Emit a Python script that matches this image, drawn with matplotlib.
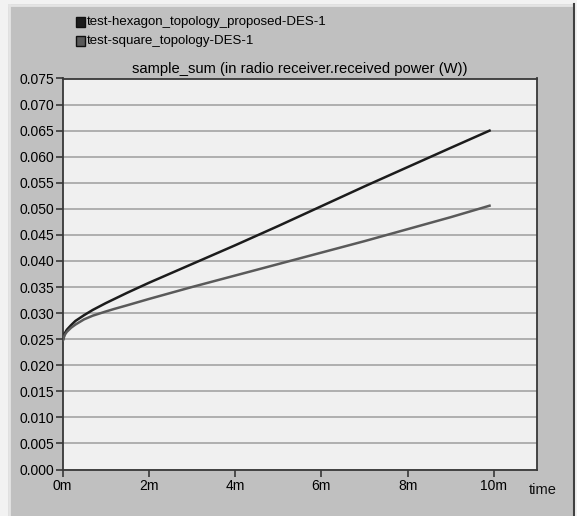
import matplotlib
matplotlib.use("Agg")
import matplotlib.pyplot as plt
from matplotlib.patches import Rectangle
from matplotlib.ticker import MultipleLocator, FuncFormatter

plt.rcParams["font.family"] = ["Liberation Sans", "DejaVu Sans"]

# simulation time (minutes) and received power (W)
hex_time = [0.0, 0.05, 0.1, 0.2, 0.3, 0.5, 0.7, 1.0, 1.2, 1.5, 2.0, 3.0,
            4.0, 5.0, 6.0, 7.0, 8.0, 9.0, 9.9]
hex_power = [0.0245, 0.0261, 0.0268, 0.0277, 0.0285, 0.0296, 0.0306, 0.0319,
             0.0327, 0.0339, 0.0358, 0.0394, 0.0430, 0.0467, 0.0505, 0.0543,
             0.0580, 0.0617, 0.0650]

sq_time = [0.0, 0.05, 0.1, 0.2, 0.3, 0.5, 0.7, 1.0, 1.2, 1.5, 2.0, 3.0,
           4.0, 5.0, 6.0, 7.0, 8.0, 9.0, 9.9]
sq_power = [0.0245, 0.0258, 0.0264, 0.0272, 0.0278, 0.0288, 0.0295, 0.0303,
            0.0308, 0.0315, 0.0327, 0.0350, 0.0372, 0.0394, 0.0416, 0.0438,
            0.0461, 0.0484, 0.0506]

series_names = ["test-hexagon_topology_proposed-DES-1", "test-square_topology-DES-1"]
series_colors = ["#1c1c1c", "#5a5a5a"]

W, H = 577, 516
fig = plt.figure(figsize=(W / 100, H / 100), dpi=100)
fig.patch.set_facecolor("#f2f2f2")

# grey panel with a light top/left edge and a dark right edge
panel = Rectangle((8 / W, 0), (566 / W), (512 / H), transform=fig.transFigure,
                  facecolor="#c0c0c0", edgecolor="none", zorder=0)
fig.patches.append(panel)
fig.add_artist(plt.Line2D([9 / W, 9 / W], [0, 511 / H], color="#e4e4e4", lw=2, zorder=0.5))
fig.add_artist(plt.Line2D([9 / W, 573 / W], [511 / H, 511 / H], color="#e4e4e4", lw=2, zorder=0.5))
fig.add_artist(plt.Line2D([574 / W, 574 / W], [0, 512 / H], color="#404040", lw=1.5, zorder=0.5))

ax = fig.add_axes([62.5 / W, (516 - 469.5) / H, (537 - 62.5) / W, (469.5 - 78.5) / H])
ax.set_zorder(2)
ax.set_facecolor("#f0f0f0")

ax.plot(hex_time, hex_power, color=series_colors[0], lw=1.8, zorder=3)
ax.plot(sq_time, sq_power, color=series_colors[1], lw=1.8, zorder=3)

ax.set_xlim(0, 11)
ax.set_ylim(0, 0.075)
ax.xaxis.set_major_locator(MultipleLocator(2))
ax.yaxis.set_major_locator(MultipleLocator(0.005))
ax.xaxis.set_major_formatter(FuncFormatter(lambda v, p: f"{v:.0f}m"))
ax.yaxis.set_major_formatter(FuncFormatter(lambda v, p: f"{v:.3f}"))
ax.grid(axis="y", color="#a4a4a4", lw=1.2)
ax.set_axisbelow(True)
for s in ax.spines.values():
    s.set_color("#383838")
    s.set_linewidth(1.3)
ax.tick_params(axis="both", colors="#383838", labelcolor="black", labelsize=10,
               length=5, width=1.2)
ax.tick_params(axis="y", pad=1)
ax.tick_params(axis="x", pad=2)

ax.set_title("sample_sum (in radio receiver.received power (W))", fontsize=10.6, pad=4)
fig.text(529 / W, 1 - 490 / H, "time", fontsize=10.5, ha="left", va="center",
         color="#101010")

# legend entries
for i, (name, col) in enumerate(zip(series_names, series_colors)):
    yc = 1 - (22 + 19 * i) / H
    fig.add_artist(Rectangle((76 / W, yc - 5 / H), 9 / W, 10 / H,
                             transform=fig.transFigure, facecolor=col,
                             edgecolor="#101010", lw=1))
    fig.text(87 / W, yc, name, fontsize=9.5, ha="left", va="center")

fig.savefig("out.png", dpi=100, facecolor=fig.get_facecolor())
